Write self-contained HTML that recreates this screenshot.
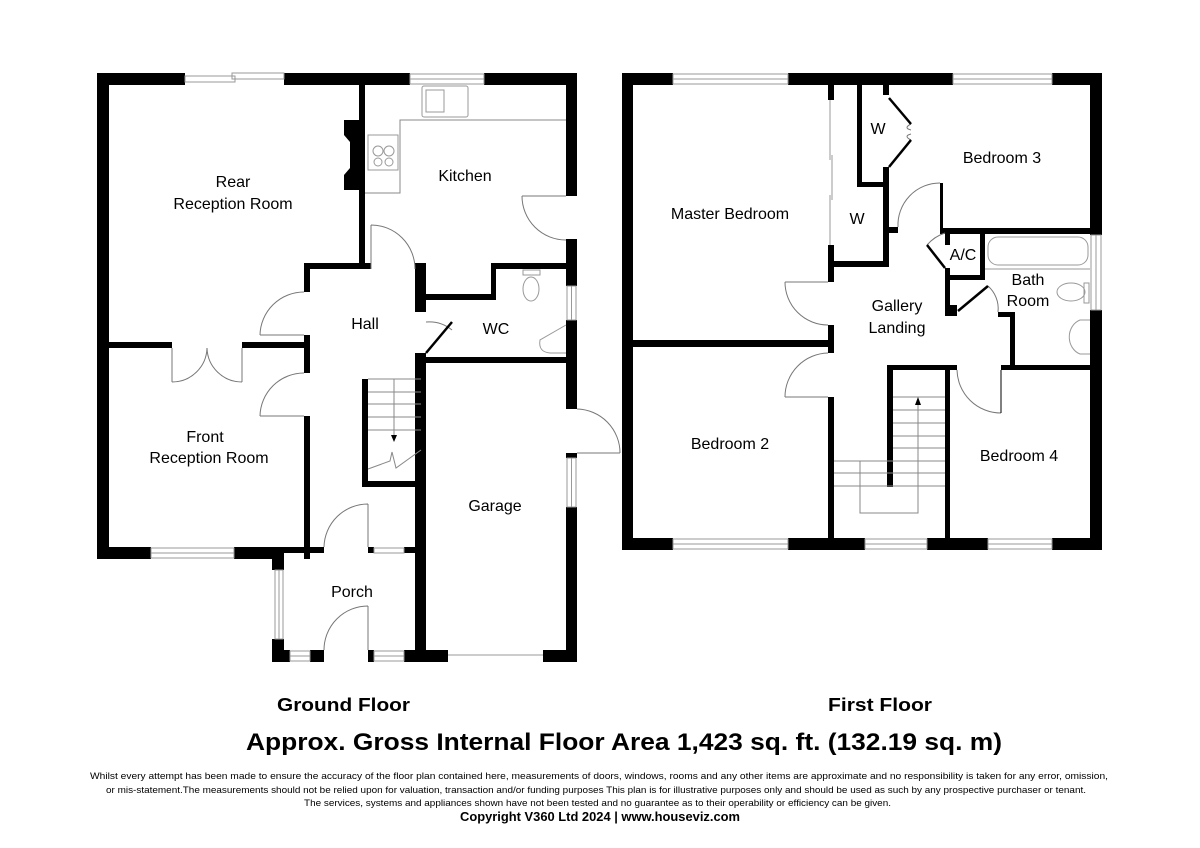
<!DOCTYPE html>
<html><head><meta charset="utf-8"><style>
html,body{margin:0;padding:0;background:#fff;}
svg{display:block;}
text{font-family:"Liberation Sans",Arial,sans-serif;fill:#000;}
</style></head><body>
<svg width="1200" height="848" viewBox="0 0 1200 848" xmlns="http://www.w3.org/2000/svg">
<g fill="#000">
<!-- ===== GROUND FLOOR ===== -->
<!-- top -->
<rect x="97" y="73" width="88" height="12"/>
<rect x="284" y="73" width="126" height="12"/>
<rect x="484" y="73" width="93" height="12"/>
<!-- left -->
<rect x="97" y="73" width="12" height="486"/>
<!-- right -->
<rect x="566" y="73" width="11" height="123"/>
<rect x="566" y="239" width="11" height="47"/>
<rect x="566" y="320" width="11" height="89"/>
<rect x="566" y="453" width="11" height="5"/>
<rect x="566" y="507" width="11" height="155"/>
<!-- partition rear/kitchen -->
<rect x="359" y="85" width="6" height="184"/>
<path d="M344 120 H359 V190 H344 V175 L350 168 V142 L344 135 Z"/>
<!-- hall top -->
<rect x="304" y="263" width="67" height="6"/>
<rect x="304" y="263" width="6" height="29"/>
<rect x="304" y="335" width="6" height="38"/>
<rect x="304" y="416" width="6" height="143"/>
<!-- rear reception bottom -->
<rect x="97" y="342" width="75" height="6"/>
<rect x="242" y="342" width="68" height="6"/>
<!-- hall right / garage left -->
<rect x="415" y="263" width="11" height="49"/>
<rect x="415" y="353" width="11" height="309"/>
<!-- kitchen/wc -->
<rect x="426" y="294" width="70" height="6"/>
<rect x="491" y="263" width="5" height="37"/>
<rect x="491" y="263" width="75" height="6"/>
<!-- garage top -->
<rect x="426" y="357" width="140" height="6"/>
<!-- stairs walls -->
<rect x="362" y="379" width="6" height="108"/>
<rect x="362" y="481" width="59" height="6"/>
<!-- front reception bottom -->
<rect x="97" y="547" width="54" height="12"/>
<rect x="234" y="547" width="42" height="12"/>
<rect x="272" y="547" width="52" height="6"/>
<rect x="368" y="547" width="6" height="6"/>
<rect x="404" y="547" width="17" height="6"/>
<!-- porch -->
<rect x="272" y="547" width="12" height="23"/>
<rect x="272" y="639" width="12" height="23"/>
<rect x="272" y="650" width="18" height="12"/>
<rect x="310" y="650" width="14" height="12"/>
<rect x="368" y="650" width="6" height="12"/>
<rect x="404" y="650" width="44" height="12"/>
<rect x="543" y="650" width="34" height="12"/>
</g>
<g fill="none" stroke="#999" stroke-width="1">
<!-- windows GF -->
<rect x="185" y="76" width="50" height="6"/><rect x="232" y="73" width="52" height="6"/>
<rect x="410" y="74" width="74" height="10"/><line x1="410" y1="79" x2="484" y2="79"/>
<rect x="567" y="286" width="9" height="34"/><line x1="571.5" y1="286" x2="571.5" y2="320"/>
<rect x="567" y="458" width="9" height="49"/><line x1="571.5" y1="458" x2="571.5" y2="507"/>
<rect x="151" y="548" width="83" height="10"/><line x1="151" y1="553" x2="234" y2="553"/>
<rect x="275" y="570" width="8" height="69"/><line x1="279" y1="570" x2="279" y2="639"/>
<rect x="290" y="651" width="20" height="10"/><line x1="290" y1="656" x2="310" y2="656"/>
<rect x="374" y="651" width="30" height="10"/><line x1="374" y1="656" x2="404" y2="656"/>
<rect x="374" y="548" width="30" height="5"/>
<line x1="448" y1="655" x2="543" y2="655"/>
<!-- kitchen units -->
<polyline points="365,193 400,193 400,120 566,120" stroke="#888"/>
<rect x="422" y="86" width="46" height="31" rx="2"/>
<rect x="426" y="90" width="18" height="22"/>
<rect x="368" y="135" width="30" height="35"/>
<circle cx="378" cy="151" r="5"/><circle cx="389" cy="151" r="5"/><circle cx="378" cy="162" r="4"/><circle cx="389" cy="162" r="4"/>
<!-- WC -->
<ellipse cx="531" cy="289" rx="8" ry="12"/><rect x="523" y="270" width="17" height="5"/>
<path d="M566 325 L540 340 Q538 352 550 353 L566 353" />
<!-- doors GF -->
<path d="M522 196 H566 M522 196 A44 44 0 0 0 566 240" stroke="#777"/>
<path d="M371 225 V269 M371 225 A44 44 0 0 1 415 269" stroke="#777"/>
<path d="M260 335 H304 M260 335 A44 44 0 0 1 304 292" stroke="#777"/>
<path d="M172 348 V382 M172 382 A35 35 0 0 0 207 348 M242 348 V382 M242 382 A35 35 0 0 1 207 348" stroke="#777"/>
<path d="M260 416 H304 M260 416 A44 44 0 0 1 304 373" stroke="#777"/>
<path d="M368 504 V547 M324 547 A44 44 0 0 1 368 504" stroke="#777"/>
<path d="M368 606 V650 M324 650 A44 44 0 0 1 368 606" stroke="#777"/>
<path d="M577 453 H620 M577 409 A44 44 0 0 1 620 453" stroke="#777"/>
<path d="M426 322 A36 36 0 0 1 452 330" stroke="#777"/>
<!-- stairs GF -->
<g stroke="#888">
<line x1="368" y1="379" x2="421" y2="379"/><line x1="368" y1="392" x2="421" y2="392"/><line x1="368" y1="404" x2="421" y2="404"/><line x1="368" y1="417" x2="421" y2="417"/><line x1="368" y1="430" x2="421" y2="430"/>
<line x1="394" y1="379" x2="394" y2="438"/>
<polyline points="368,469 390,461 392,452 396,468 421,450"/>
</g>
</g>
<path d="M391 435 L397 435 L394 442 Z" fill="#000"/>
<line x1="426" y1="353" x2="452" y2="322" stroke="#000" stroke-width="2.5"/>

<!-- ===== FIRST FLOOR ===== -->
<g fill="#000">
<rect x="622" y="73" width="51" height="12"/>
<rect x="788" y="73" width="165" height="12"/>
<rect x="1052" y="73" width="50" height="12"/>
<rect x="622" y="73" width="11" height="477"/>
<rect x="1090" y="73" width="12" height="162"/>
<rect x="1090" y="310" width="12" height="240"/>
<rect x="622" y="538" width="51" height="12"/>
<rect x="788" y="538" width="77" height="12"/>
<rect x="927" y="538" width="61" height="12"/>
<rect x="1052" y="538" width="50" height="12"/>
<rect x="633" y="340" width="201" height="7"/>
<rect x="828" y="85" width="6" height="15"/>
<rect x="828" y="245" width="6" height="37"/>
<rect x="828" y="325" width="6" height="28"/>
<rect x="828" y="397" width="6" height="141"/>
<rect x="834" y="261" width="55" height="6"/>
<rect x="883" y="182" width="6" height="85"/>
<rect x="889" y="227" width="9" height="6"/>
<rect x="857" y="85" width="5" height="102"/>
<rect x="857" y="182" width="32" height="5"/>
<rect x="883" y="85" width="6" height="10"/>
<rect x="883" y="167" width="6" height="20"/>
<rect x="940" y="183" width="3" height="45"/>
<rect x="940" y="228" width="150" height="6"/>
<rect x="945" y="228" width="5" height="17"/>
<rect x="945" y="268" width="5" height="48"/>
<rect x="945" y="305" width="12" height="11"/>
<rect x="945" y="275" width="40" height="5"/>
<rect x="980" y="228" width="5" height="52"/>
<rect x="998" y="312" width="17" height="5"/>
<rect x="1010" y="312" width="5" height="58"/>
<rect x="1001" y="365" width="89" height="5"/>
<rect x="887" y="365" width="70" height="5"/>
<rect x="887" y="365" width="6" height="122"/>
<rect x="945" y="365" width="5" height="175"/>
</g>
<g fill="none" stroke="#999" stroke-width="1">
<rect x="673" y="74" width="115" height="10"/><line x1="673" y1="79" x2="788" y2="79"/>
<rect x="953" y="74" width="99" height="10"/><line x1="953" y1="79" x2="1052" y2="79"/>
<rect x="673" y="539" width="115" height="10"/><line x1="673" y1="544" x2="788" y2="544"/>
<rect x="865" y="539" width="62" height="10"/><line x1="865" y1="544" x2="927" y2="544"/>
<rect x="988" y="539" width="64" height="10"/><line x1="988" y1="544" x2="1052" y2="544"/>
<rect x="1091" y="235" width="10" height="75"/><line x1="1096" y1="235" x2="1096" y2="310"/>
<!-- sliding wardrobe -->
<line x1="830" y1="100" x2="830" y2="160"/><line x1="832" y1="155" x2="832" y2="200"/><line x1="830" y1="195" x2="830" y2="245"/>
<!-- doors FF -->
<path d="M785 282 H828 M785 282 A43 43 0 0 0 828 325" stroke="#777"/>
<path d="M785 397 H828 M785 397 A44 44 0 0 1 828 353" stroke="#777"/>
<path d="M898 227 A42 42 0 0 1 940 183" stroke="#777"/>
<path d="M927 245 A40 40 0 0 1 945 233" stroke="#777"/>
<path d="M988 286 A30 30 0 0 1 998 312" stroke="#777"/>
<path d="M957 370 A44 44 0 0 0 1001 413" stroke="#777"/>
<line x1="1001" y1="370" x2="1001" y2="413" stroke="#000"/>
<path d="M911 124 Q903 128 911 130 M911 140 Q903 136 911 134" stroke="#777"/>
<!-- bath fittings -->
<rect x="988" y="237" width="100" height="28" rx="10"/>
<line x1="985" y1="269" x2="1090" y2="269"/>
<ellipse cx="1071" cy="292" rx="14" ry="9"/><rect x="1084" y="283" width="5" height="20"/>
<path d="M1090 320 H1080 A16 18 0 0 0 1080 354 H1090"/>
<!-- stairs FF -->
<g stroke="#888">
<line x1="893" y1="397" x2="945" y2="397"/><line x1="893" y1="410" x2="945" y2="410"/><line x1="893" y1="423" x2="945" y2="423"/><line x1="893" y1="436" x2="945" y2="436"/><line x1="893" y1="448" x2="945" y2="448"/>
<line x1="834" y1="461" x2="945" y2="461"/><line x1="834" y1="473" x2="945" y2="473"/><line x1="834" y1="486" x2="945" y2="486"/>
<polyline points="918,402 918,513 860,513 860,461"/>
</g>
</g>
<path d="M915 405 L921 405 L918 397 Z" fill="#000"/>
<g stroke="#000" stroke-width="2.5" fill="none">
<line x1="889" y1="98" x2="911" y2="124"/>
<line x1="889" y1="167" x2="911" y2="140"/>
<line x1="945" y1="268" x2="927" y2="245"/>
<line x1="958" y1="311" x2="988" y2="286"/>
</g>

<!-- labels -->
<g font-size="16" text-anchor="middle">
<text x="233" y="187">Rear</text>
<text x="233" y="209">Reception Room</text>
<text x="465" y="181">Kitchen</text>
<text x="365" y="329">Hall</text>
<text x="496" y="334">WC</text>
<text x="205" y="442">Front</text>
<text x="209" y="463">Reception Room</text>
<text x="495" y="511">Garage</text>
<text x="352" y="597">Porch</text>
<text x="730" y="219">Master Bedroom</text>
<text x="878" y="134">W</text>
<text x="857" y="224">W</text>
<text x="1002" y="163">Bedroom 3</text>
<text x="963" y="260">A/C</text>
<text x="1028" y="285">Bath</text>
<text x="1028" y="306">Room</text>
<text x="897" y="311">Gallery</text>
<text x="897" y="333">Landing</text>
<text x="730" y="449">Bedroom 2</text>
<text x="1019" y="461">Bedroom 4</text>
</g>
<text x="277" y="711" font-size="18" font-weight="bold" textLength="133" lengthAdjust="spacingAndGlyphs">Ground Floor</text>
<text x="828" y="711" font-size="18" font-weight="bold" textLength="104" lengthAdjust="spacingAndGlyphs">First Floor</text>
<text x="246" y="750" font-size="24" font-weight="bold" textLength="756" lengthAdjust="spacingAndGlyphs">Approx. Gross Internal Floor Area 1,423 sq. ft. (132.19 sq. m)</text>
<g font-size="9.5">
<text x="90" y="779" textLength="1018" lengthAdjust="spacingAndGlyphs">Whilst every attempt has been made to ensure the accuracy of the floor plan contained here, measurements of doors, windows, rooms and any other items are approximate and no responsibility is taken for any error, omission,</text>
<text x="106" y="793" textLength="980" lengthAdjust="spacingAndGlyphs">or mis-statement.The measurements should not be relied upon for valuation, transaction and/or funding purposes This plan is for illustrative purposes only and should be used as such by any prospective purchaser or tenant.</text>
<text x="304" y="806" textLength="587" lengthAdjust="spacingAndGlyphs">The services, systems and appliances shown have not been tested and no guarantee as to their operability or efficiency can be given.</text>
</g>
<text x="460" y="821" font-size="12.5" font-weight="bold" textLength="280" lengthAdjust="spacingAndGlyphs">Copyright V360 Ltd 2024 | www.houseviz.com</text>
</svg>
</body></html>
